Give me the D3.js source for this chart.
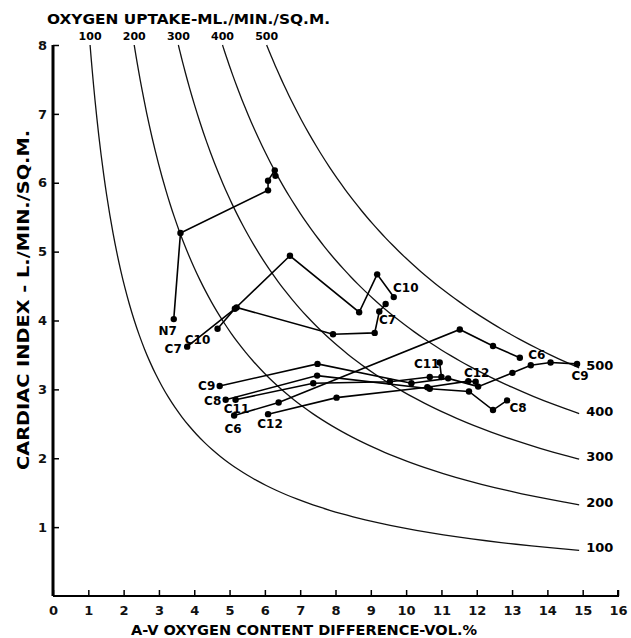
<!DOCTYPE html>
<html>
<head>
<meta charset="utf-8">
<script src="https://cdn.jsdelivr.net/npm/d3@7"></script>
<style>
  body { margin: 0; background: #fff; }
</style>
</head>
<body>
<div id="chart"></div>
<script>
// iso-uptake curves, ml/min/sq.m.
var uptakes = [100, 200, 300, 400, 500];
var xTickLabels = [0, 1, 2, 3, 4, 5, 6, 7, 8, 9, 10, 11, 12, 13, 14, 15, 16];
var yTickLabels = [1, 2, 3, 4, 5, 6, 7, 8];

// [a-v O2 difference vol.%, cardiac index l/min/sq.m.]
var n7  = [[3.42, 4.02], [3.61, 5.27], [6.09, 5.89], [6.09, 6.03], [6.28, 6.18], [6.30, 6.10]];
var c10 = [[4.66, 3.88], [5.15, 4.17], [6.71, 4.94], [8.67, 4.12], [9.18, 4.67], [9.65, 4.34]];
var c7  = [[3.80, 3.62], [5.20, 4.19], [7.93, 3.80], [9.11, 3.82], [9.24, 4.13], [9.42, 4.24]];
var c9  = [[4.72, 3.05], [7.49, 3.37], [10.15, 3.09], [11.19, 3.16], [12.04, 3.04], [13.01, 3.24],
           [13.53, 3.35], [14.09, 3.39], [14.84, 3.37]];
var c8  = [[4.89, 2.85], [7.48, 3.20], [10.67, 3.01], [11.78, 2.97], [12.46, 2.70], [12.86, 2.84]];
var c11 = [[5.17, 2.85], [7.37, 3.09], [9.54, 3.11], [10.67, 3.18], [11.00, 3.18], [10.95, 3.39]];
var c6  = [[5.13, 2.62], [6.39, 2.81], [11.52, 3.87], [12.46, 3.63], [13.22, 3.46]];
var c12 = [[6.09, 2.64], [8.03, 2.88], [10.60, 3.03], [11.76, 3.12], [11.97, 3.11]];

var series = [
  { name: "N7", pts: n7 }, { name: "C10", pts: c10 }, { name: "C7", pts: c7 },
  { name: "C9", pts: c9 }, { name: "C8", pts: c8 }, { name: "C11", pts: c11 },
  { name: "C6", pts: c6 }, { name: "C12", pts: c12 }
];

// where each patient label sits (which end, pixel offset from that point)
var labelPos = [
  { s: "N7", end: 0, dx: -6, dy: 12 },
  { s: "C7", end: 0, dx: -14, dy: 2 },
  { s: "C10", end: 0, dx: -20, dy: 11 },
  { s: "C10", end: 1, dx: 12, dy: -9 },
  { s: "C7", end: 1, dx: 2, dy: 16 },
  { s: "C9", end: 0, dx: -13, dy: 0 },
  { s: "C8", end: 0, dx: -13, dy: 1 },
  { s: "C11", end: 0, dx: 1, dy: 9 },
  { s: "C6", end: 0, dx: -1, dy: 13 },
  { s: "C12", end: 0, dx: 2, dy: 10 },
  { s: "C11", end: 1, dx: -13, dy: 1 },
  { s: "C12", end: 1, dx: 1, dy: -9 },
  { s: "C8", end: 1, dx: 11, dy: 8 },
  { s: "C6", end: 1, dx: 17, dy: -3 },
  { s: "C9", end: 1, dx: 3, dy: 12 }
];

var width = 631, height = 638;
var font = "'DejaVu Sans', sans-serif";

var svg = d3.select("#chart")
  .append("svg")
  .attr("width", width)
  .attr("height", height)
  .style("font-family", font);

var x = d3.scaleLinear().domain([0, 16]).range([53, 618]);
var y = d3.scaleLinear().domain([0, 8]).range([596, 45]);

// iso-uptake curves: CI = uptake / (10 * a-v diff), drawn as on the original sheet
var xOff = 0.2;
var isoLine = d3.line()
  .x(function (d) { return x(d[0]); })
  .y(function (d) { return y(d[1]); })
  .curve(d3.curveBasis);

uptakes.forEach(function (u) {
  var k = u / 10;
  var x0 = k / 8 - xOff, x1 = 14.9;
  var pts = d3.range(0, 61).map(function (i) {
    var t = i / 60;
    // sample denser near the steep top
    var xv = x0 + (x1 - x0) * t * t;
    return [xv, k / (xv + xOff)];
  });
  svg.append("path")
    .datum(pts)
    .attr("fill", "none")
    .attr("stroke", "#111")
    .attr("stroke-width", 1.3)
    .attr("d", isoLine);

  svg.append("text")
    .attr("x", x(x0))
    .attr("y", 40)
    .attr("text-anchor", "middle")
    .style("font-size", "11px")
    .style("font-weight", "bold")
    .text(u);

  svg.append("text")
    .attr("x", x(x1) + 7)
    .attr("y", y(k / (x1 + xOff)) + 2)
    .style("font-size", "13px")
    .style("font-weight", "bold")
    .text(u);
});

// axes
svg.append("g")
  .attr("transform", "translate(0," + y(0) + ")")
  .call(d3.axisBottom(x).tickValues(xTickLabels).tickSize(-6).tickPadding(10).tickFormat(d3.format("d")))
  .call(function (g) {
    g.select(".domain").attr("stroke-width", 2).attr("d", "M" + x(0) + ",0H" + x(16) + "V-6");
    g.selectAll(".tick line").attr("stroke-width", 1.5);
    g.selectAll(".tick text").style("font-size", "13px").style("font-weight", "bold").style("font-family", font).attr("fill", "#111");
  });

svg.append("g")
  .attr("transform", "translate(" + x(0) + ",0)")
  .call(d3.axisLeft(y).tickValues(yTickLabels).tickSize(-6).tickPadding(6).tickFormat(d3.format("d")))
  .call(function (g) {
    g.select(".domain").attr("stroke-width", 3).attr("d", "M0," + y(8) + "V" + y(0));
    g.selectAll(".tick line").attr("stroke-width", 1.5);
    g.selectAll(".tick text").style("font-size", "13px").style("font-weight", "bold").style("font-family", font).attr("fill", "#111");
  });

// titles
svg.append("text")
  .attr("x", 47).attr("y", 24)
  .attr("textLength", 283).attr("lengthAdjust", "spacingAndGlyphs")
  .style("font-size", "14px").style("font-weight", "bold")
  .text("OXYGEN UPTAKE-ML./MIN./SQ.M.");

svg.append("text")
  .attr("transform", "translate(29,300) rotate(-90)")
  .attr("text-anchor", "middle")
  .attr("textLength", 340).attr("lengthAdjust", "spacingAndGlyphs")
  .style("font-size", "15px").style("font-weight", "bold")
  .text("CARDIAC INDEX - L./MIN./SQ.M.");

svg.append("text")
  .attr("x", 304).attr("y", 635)
  .attr("text-anchor", "middle")
  .attr("textLength", 346).attr("lengthAdjust", "spacingAndGlyphs")
  .style("font-size", "14px").style("font-weight", "bold")
  .text("A-V OXYGEN CONTENT DIFFERENCE-VOL.%");

// patient tracks
var track = d3.line()
  .x(function (d) { return x(d[0]); })
  .y(function (d) { return y(d[1]); });

series.forEach(function (s) {
  svg.append("path")
    .datum(s.pts)
    .attr("fill", "none")
    .attr("stroke", "#000")
    .attr("stroke-width", 1.6)
    .attr("d", track);

  svg.selectAll(null)
    .data(s.pts)
    .enter().append("circle")
    .attr("cx", function (d) { return x(d[0]); })
    .attr("cy", function (d) { return y(d[1]); })
    .attr("r", 3.2)
    .attr("fill", "#000");
});

labelPos.forEach(function (l) {
  var s = series.find(function (d) { return d.name === l.s; });
  var p = l.end === 0 ? s.pts[0] : s.pts[s.pts.length - 1];
  svg.append("text")
    .attr("x", x(p[0]) + l.dx)
    .attr("y", y(p[1]) + l.dy)
    .attr("text-anchor", "middle")
    .attr("dominant-baseline", "central")
    .style("font-size", "12px")
    .style("font-weight", "bold")
    .text(l.s);
});
</script>
</body>
</html>
